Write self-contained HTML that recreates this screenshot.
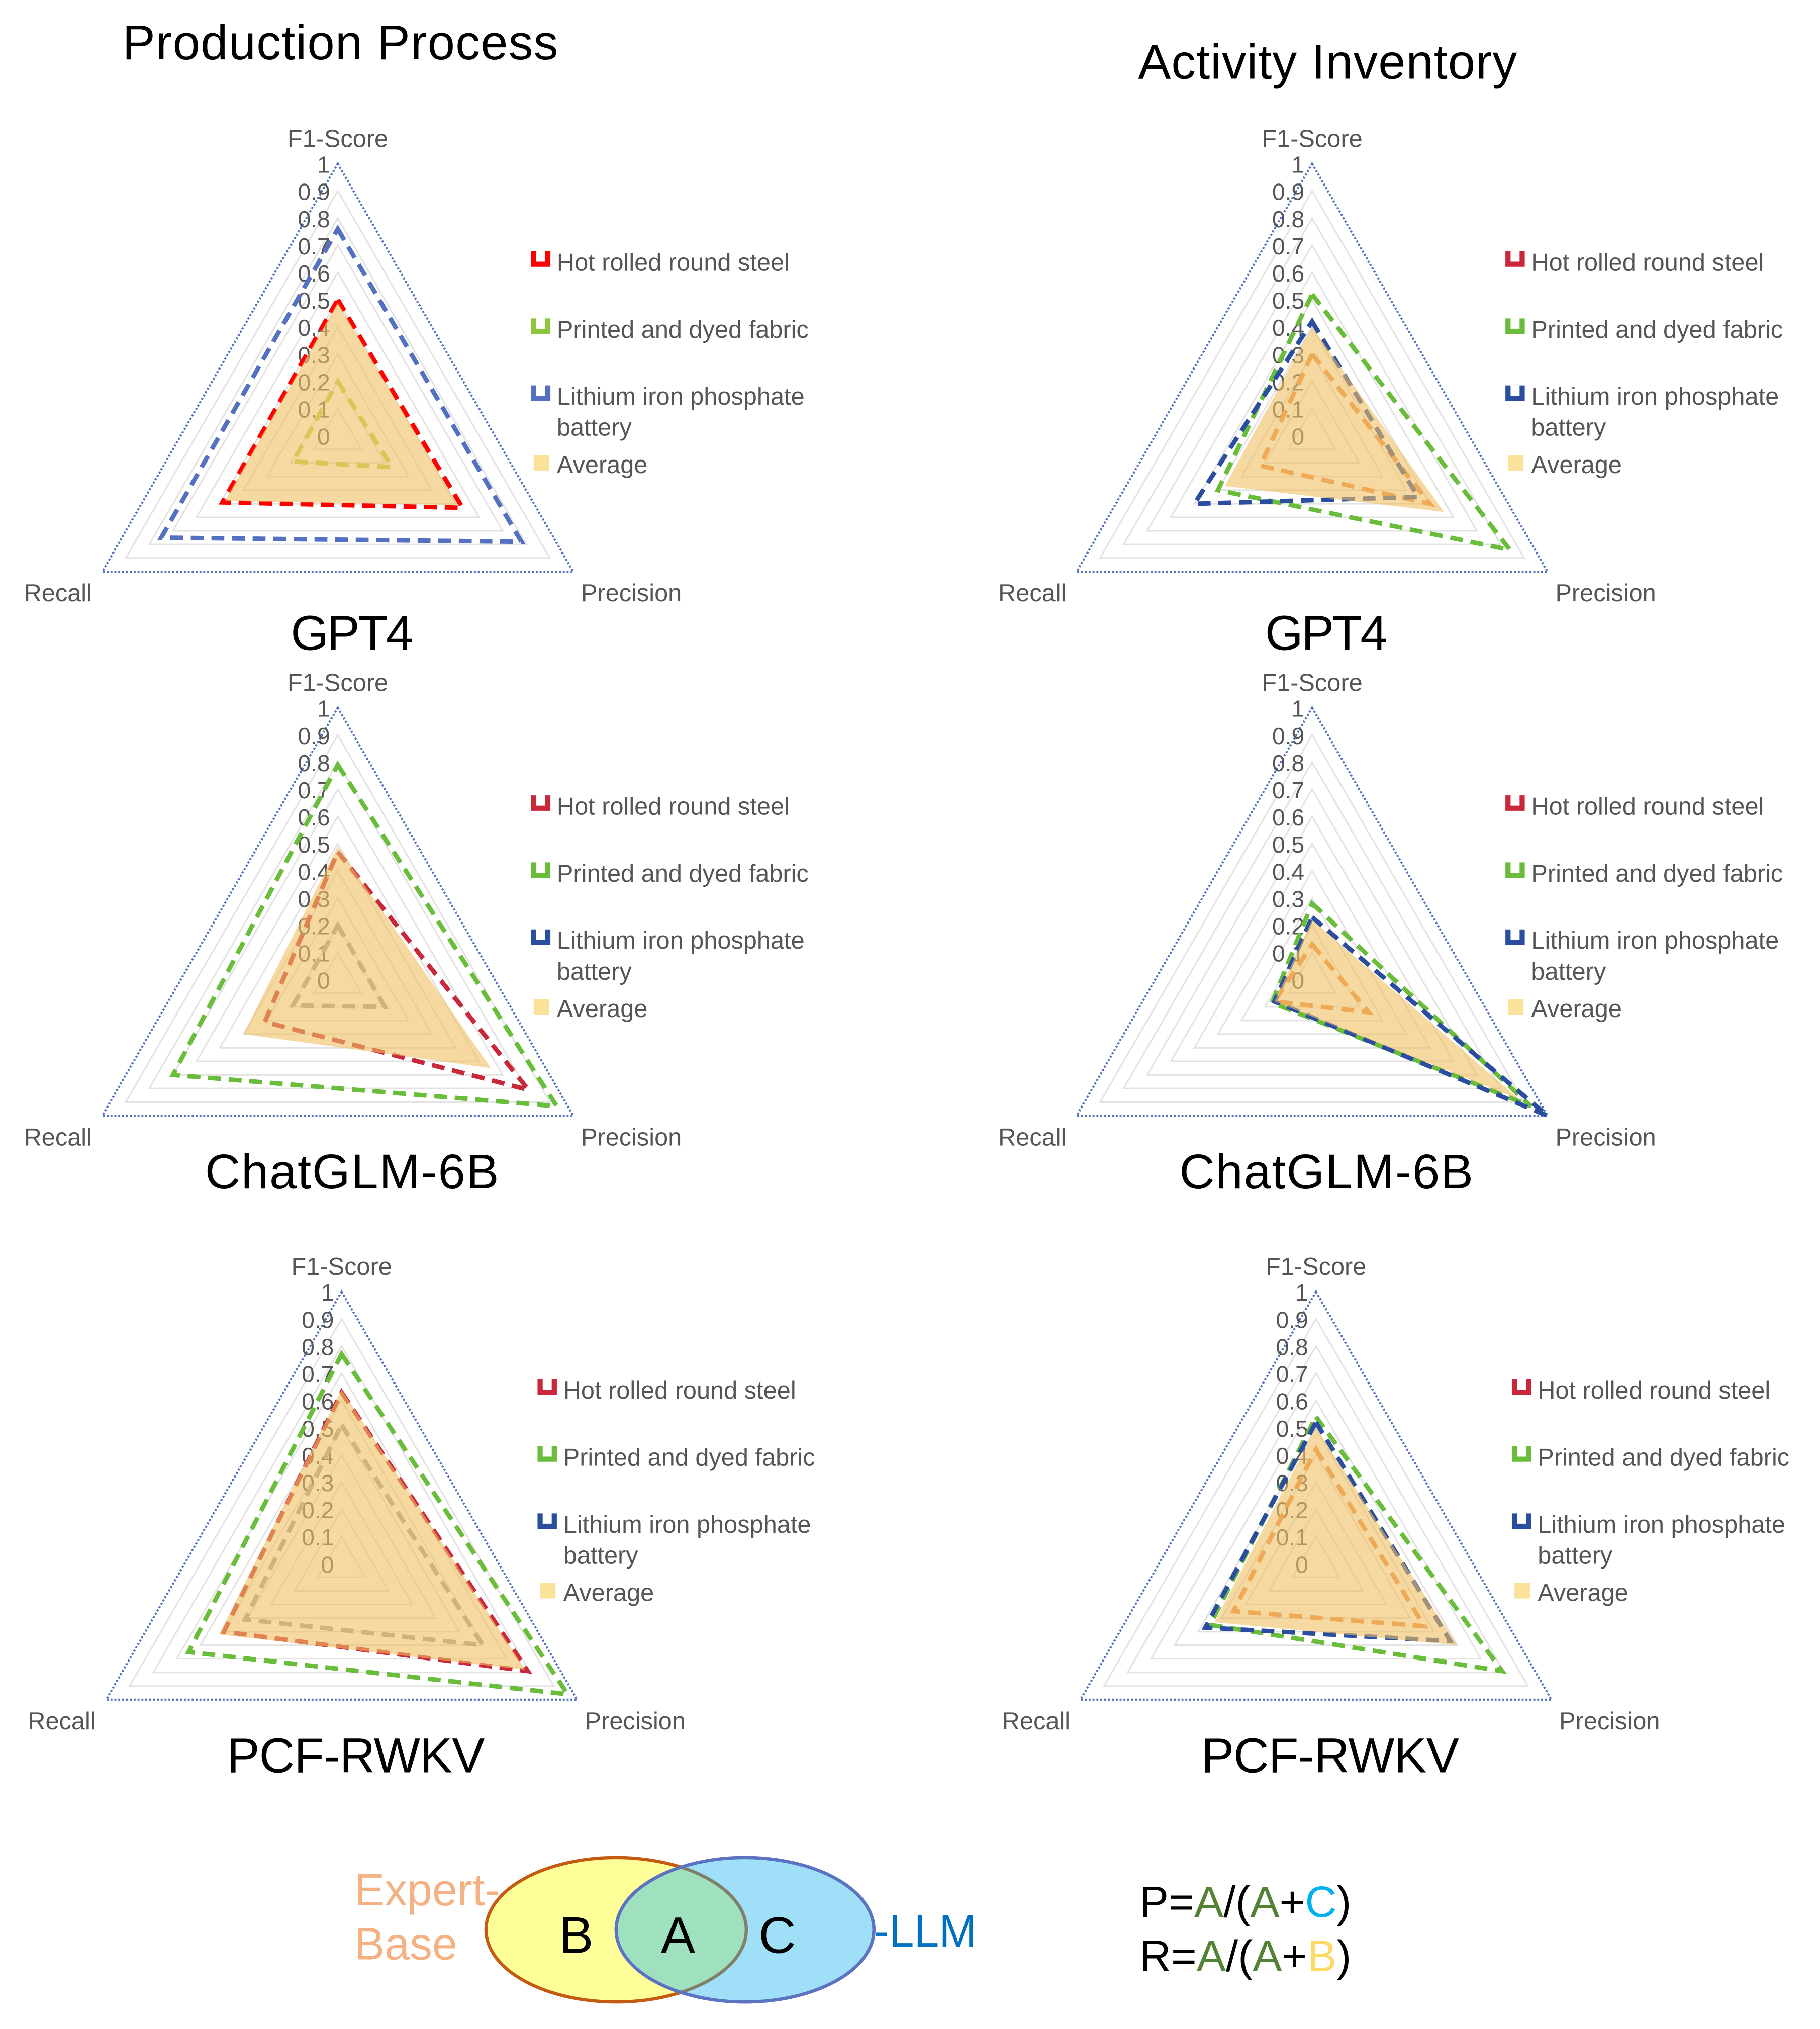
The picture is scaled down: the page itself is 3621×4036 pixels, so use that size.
<!DOCTYPE html>
<html><head><meta charset="utf-8"><style>
html,body{margin:0;padding:0;background:#fff}
svg{display:block}
text{font-family:"Liberation Sans",sans-serif}
</style></head><body>
<svg id="root" width="3621" height="4036" viewBox="0 0 1412 1574" xmlns="http://www.w3.org/2000/svg">
<rect width="1412" height="1574" fill="#fff"/>
<text x="264" y="46" font-size="38" text-anchor="middle" fill="#000" textLength="338">Production Process</text>
<text x="1030" y="61" font-size="38" text-anchor="middle" fill="#000" textLength="294">Activity Inventory</text>
<g id="charts"></g>
<g>
<ellipse cx="478" cy="1497" rx="101" ry="56" fill="#feff99" stroke="#c55a11" stroke-width="2.5"/>
<ellipse cx="578" cy="1497" rx="100" ry="56" fill="#9fdff7" stroke="#5b73c0" stroke-width="2.5"/>
<clipPath id="cl"><ellipse cx="478" cy="1497" rx="101" ry="56"/></clipPath>
<clipPath id="cl2"><ellipse cx="578" cy="1497" rx="100" ry="56"/></clipPath>
<ellipse cx="578" cy="1497" rx="100" ry="56" fill="#9fe0be" clip-path="url(#cl)"/>
<ellipse cx="478" cy="1497" rx="101" ry="56" fill="none" stroke="#7f7f6a" stroke-width="2.5" clip-path="url(#cl2)"/>
<ellipse cx="578" cy="1497" rx="100" ry="56" fill="none" stroke="#5b73c0" stroke-width="2.5"/>
<text x="275" y="1478" font-size="35" fill="#f4b183">Expert-</text>
<text x="275" y="1520" font-size="35" fill="#f4b183">Base</text>
<text x="447" y="1515" font-size="40" text-anchor="middle">B</text>
<text x="526" y="1515" font-size="40" text-anchor="middle">A</text>
<text x="603" y="1515" font-size="40" text-anchor="middle">C</text>
<text x="678" y="1510" font-size="35" fill="#0070c0">-LLM</text>
</g>
<g font-size="34">
<text x="884" y="1487">P=<tspan fill="#548235">A</tspan>/(<tspan fill="#548235">A</tspan>+<tspan fill="#00b0f0">C</tspan>)</text>
<text x="884" y="1529">R=<tspan fill="#548235">A</tspan>/(<tspan fill="#548235">A</tspan>+<tspan fill="#ffd966">B</tspan>)</text>
</g>
</svg>
<script>
// values order: [F1-Score, Precision, Recall]
const axesLabels = ["F1-Score","Precision","Recall"];
const tickLabels = ["0","0.1","0.2","0.3","0.4","0.5","0.6","0.7","0.8","0.9","1"];
const seriesNames = ["Hot rolled round steel","Printed and dyed fabric","Lithium iron phosphate battery"];
const modelNames = ["GPT4","ChatGLM-6B","PCF-RWKV"];
const gpt4Prod = [[0.50,0.53,0.49],[0.20,0.23,0.19],[0.76,0.78,0.75]];
const gpt4ProdAvg = [0.49,0.51,0.48];
const gpt4Act = [[0.30,0.50,0.22],[0.52,0.84,0.40],[0.42,0.45,0.50]];
const gpt4ActAvg = [0.40,0.56,0.37];
const glmProd = [[0.47,0.81,0.31],[0.79,0.93,0.70],[0.20,0.20,0.19]];
const glmProdAvg = [0.49,0.65,0.40];
const glmAct = [[0.13,0.24,0.16],[0.28,0.93,0.17],[0.23,1.00,0.16]];
const glmActAvg = [0.22,0.88,0.16];
const rwkvProd = [[0.63,0.79,0.50],[0.77,0.96,0.65],[0.51,0.60,0.41]];
const rwkvProdAvg = [0.64,0.78,0.52];
const rwkvAct = [[0.42,0.46,0.35],[0.54,0.79,0.45],[0.52,0.57,0.47]];
const rwkvActAvg = [0.50,0.60,0.43];

const NS="http://www.w3.org/2000/svg";
const R=211;
const angles=[-90,30,150].map(a=>a*Math.PI/180);
function pt(cx,cy,i,v){return [cx+R*v*Math.cos(angles[i]), cy+R*v*Math.sin(angles[i])];}
function poly(cx,cy,vals){return vals.map((v,i)=>pt(cx,cy,i,v).map(n=>n.toFixed(1)).join(",")).join(" ");}
function mk(tag,attrs,parent){const e=document.createElementNS(NS,tag);for(const k in attrs)e.setAttribute(k,attrs[k]);parent.appendChild(e);return e;}
const root=document.getElementById('charts');

const panels=[
 {cx:262,cy:338,data:gpt4Prod,avg:gpt4ProdAvg,title:modelNames[0],ty:504,tw:95,cols:["#ff0000","#b3d34c","#5470c0"],lx:412,ly:203,id:"gpt4-production"},
 {cx:1018,cy:338,data:gpt4Act,avg:gpt4ActAvg,title:modelNames[0],ty:504,tw:95,cols:["#ee8a4a","#6abd3a","#2b4da0"],lx:1168,ly:203,id:"gpt4-activity"},
 {cx:262,cy:760,data:glmProd,avg:glmProdAvg,title:modelNames[1],ty:922,tw:228,cols:["#c8283a","#6abd3a","#a0a0a0"],lx:412,ly:625,id:"chatglm-production"},
 {cx:1018,cy:760,data:glmAct,avg:glmActAvg,title:modelNames[1],ty:922,tw:228,cols:["#ee8a4a","#6abd3a","#2b4da0"],lx:1168,ly:625,id:"chatglm-activity"},
 {cx:265,cy:1213,data:rwkvProd,avg:rwkvProdAvg,title:modelNames[2],ty:1375,tw:200,cols:["#c8283a","#6abd3a","#a0a0a0"],lx:417,ly:1078,id:"pcf-rwkv-production"},
 {cx:1021,cy:1213,data:rwkvAct,avg:rwkvActAvg,title:modelNames[2],ty:1375,tw:200,cols:["#ee8a4a","#6abd3a","#2b4da0"],lx:1173,ly:1078,id:"pcf-rwkv-activity"}
];
const legendIcon=["#c8283a","#6abd3a","#2b4da0"];

panels.forEach((p,pi)=>{
 const g=mk('g',{},root);
 
 
 for(let k=1;k<=10;k++){
  const gr=mk('polygon',{points:poly(p.cx,p.cy,[k/10,k/10,k/10]),fill:"none",stroke:k==10?"#4f6fc0":"#e2e2e2","stroke-width":k==10?1.6:1.2,"stroke-dasharray":k==10?"1.5 1.5":"none"},g);
  
  
 }
 tickLabels.forEach((t,k)=>{
  const tx=mk('text',{x:p.cx-6,y:p.cy-R*k/10+7,"font-size":18,"text-anchor":"end",fill:"#555"},g);
  tx.textContent=t;
  
  
 });
 const lp=[[p.cx,p.cy-R-13,"middle"],[pt(p.cx,p.cy,1,1)[0]+6,pt(p.cx,p.cy,1,1)[1]+23,"start"],[pt(p.cx,p.cy,2,1)[0]-8,pt(p.cx,p.cy,2,1)[1]+23,"end"]];
 axesLabels.forEach((a,i)=>{
  const tx=mk('text',{x:lp[i][0],y:lp[i][1],"font-size":19,"text-anchor":lp[i][2],fill:"#555"},g);
  tx.textContent=a;
  
  
 });
 p.data.forEach((vals,si)=>{
  const l=mk('polygon',{points:poly(p.cx,p.cy,vals),fill:"none",stroke:p.cols[si],"stroke-width":3.5,"stroke-dasharray":"10 6","stroke-linejoin":"miter"},g);
  
  
 });
 const f=mk('polygon',{points:poly(p.cx,p.cy,p.avg),fill:"#f0c060","fill-opacity":0.6,stroke:"none"},g);
 
 
 const tt=mk('text',{x:p.cx+11,y:p.ty,"font-size":38,"text-anchor":"middle",fill:"#000",textLength:p.tw},g);
 tt.textContent=p.title;
 
 
 const lg=mk('g',{},g);
 
 
 const lys=[p.ly,p.ly+52,p.ly+104];
 seriesNames.forEach((s,si)=>{
  const y=lys[si];
  const ic=mk('path',{d:`M${p.lx+2} ${y-8} v10 h11 v-10`,fill:"none",stroke:pi==0?["#ff0000","#8cc63f","#5470c0"][si]:legendIcon[si],"stroke-width":4},lg);
  
  
  const tx=mk('text',{x:p.lx+20,y:y+7,"font-size":19,fill:"#555"},lg);
  
  
  if(si==2){tx.textContent="Lithium iron phosphate";const t2=mk('text',{x:p.lx+20,y:y+31,"font-size":19,fill:"#555"},lg);t2.textContent="battery";}
  else tx.textContent=s;
 });
 const sq=mk('rect',{x:p.lx+2,y:p.ly+150,width:12,height:12,fill:"#fbe29a"},lg);
 
 
 const at=mk('text',{x:p.lx+20,y:p.ly+164,"font-size":19,fill:"#555"},lg);
 at.textContent="Average";
 
 
});
</script>
</body></html>
